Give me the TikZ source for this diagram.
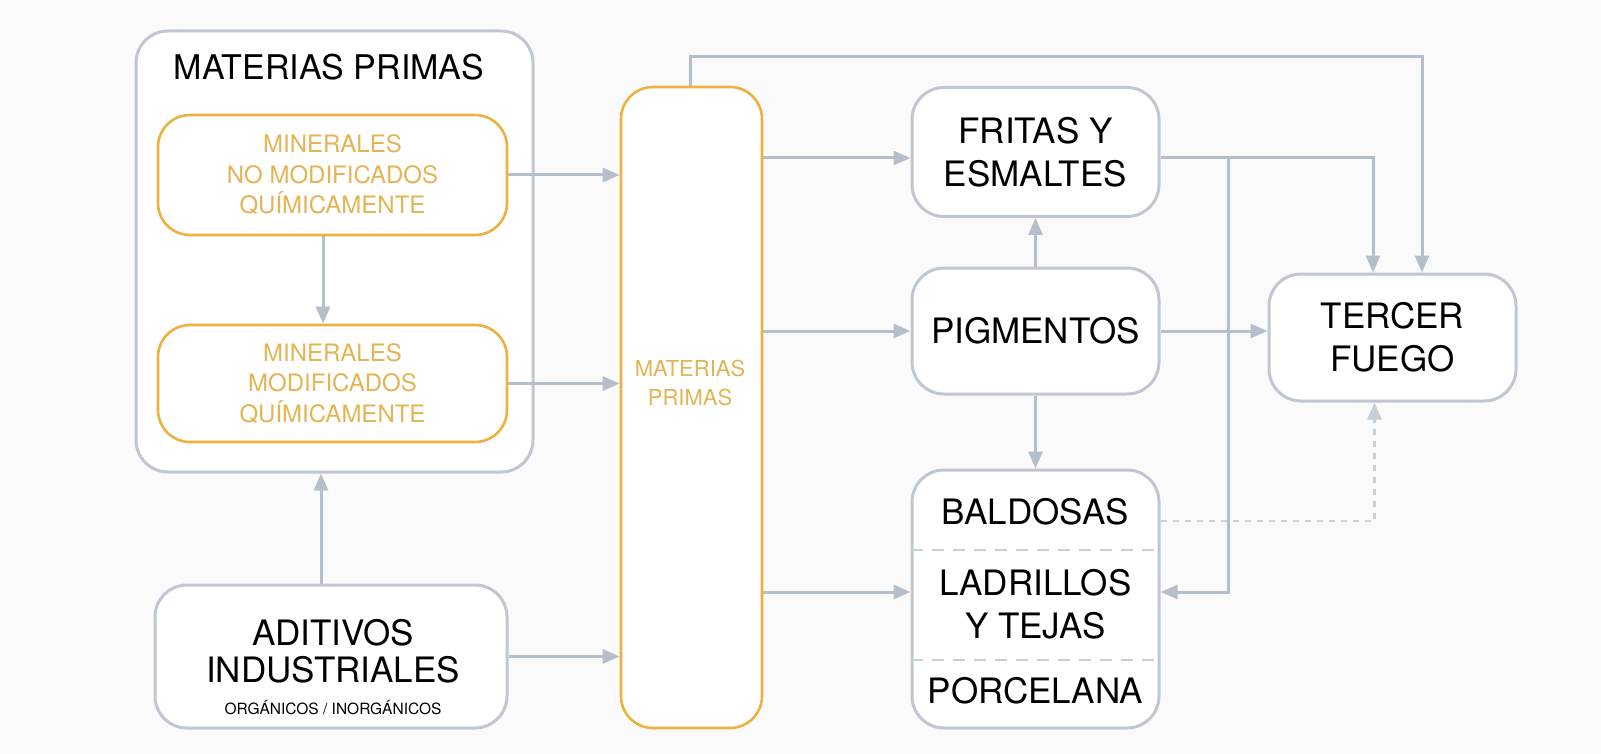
\documentclass[tikz,border=0pt]{standalone}
\usepackage{fontspec}
\setmainfont{TeX Gyre Heros}
\usetikzlibrary{arrows.meta}
\definecolor{lgray}{RGB}{181,191,203}
\definecolor{bgray}{RGB}{192,199,209}
\definecolor{dgray}{RGB}{200,206,214}
\definecolor{gold}{RGB}{234,178,62}
\definecolor{goldtxt}{RGB}{228,180,84}
\definecolor{bgc}{RGB}{250,250,250}
\begin{document}
\begin{tikzpicture}[x=1pt,y=-1pt,
  box/.style={draw=bgray, line width=3pt, rounded corners=32pt, fill=white, inner sep=0pt, align=center, font=\fontsize{35}{43}\selectfont},
  obox/.style={draw=gold, line width=2.6pt, rounded corners=32pt, fill=white, inner sep=0pt, align=center, text=goldtxt, font=\fontsize{24}{30.5}\selectfont},
  conn/.style={draw=lgray, line width=3pt, -{Triangle[length=17pt,width=14pt]}},
  dconn/.style={draw=dgray, line width=2.6pt, dash pattern=on 6pt off 6pt, -{Triangle[length=17pt,width=14pt]}},
  sep/.style={draw=dgray, line width=2.6pt, dash pattern=on 12pt off 9pt},
  txt/.style={inner sep=0pt, align=center}]
\fill[bgc] (0,0) rectangle (1601,754);
\useasboundingbox (0,0) rectangle (1601,754);

% left group
\node[box, minimum width=397pt, minimum height=441pt] (mp) at (334.5,251.5) {};
\node[txt, font=\fontsize{34}{40}\selectfont] (mpt) at (329,67) {MATERIAS PRIMAS};
\node[obox, minimum width=349pt, minimum height=120pt] (m1) at (332.5,175) {MINERALES\\NO MODIFICADOS\\QUÍMICAMENTE};
\node[obox, minimum width=349pt, minimum height=117pt] (m2) at (332.5,383.5) {MINERALES\\MODIFICADOS\\QUÍMICAMENTE};

\node[box, minimum width=352pt, minimum height=143pt] (adi) at (331,656.5) {};
\node[txt, font=\fontsize{35}{37}\selectfont] (adit) at (333,651.5) {ADITIVOS\\INDUSTRIALES};
\node[txt, font=\fontsize{15.5}{18}\selectfont] (adis) at (333,708) {ORGÁNICOS / INORGÁNICOS};

% column
\node[obox, minimum width=141pt, minimum height=641pt] (col) at (691.5,407.5) {};
\node[txt, text=goldtxt, font=\fontsize{22}{29}\selectfont] (colt) at (690,383) {MATERIAS\\PRIMAS};

% right group
\node[box, minimum width=247pt, minimum height=129pt] (fr) at (1035.5,152) {FRITAS Y\\ESMALTES};
\node[box, minimum width=247pt, minimum height=126pt] (pig) at (1035.5,331) {PIGMENTOS};
\node[box, minimum width=247pt, minimum height=258pt] (bald) at (1035.5,599) {};
\node[txt, font=\fontsize{35}{43}\selectfont] (bt1) at (1035.5,512) {BALDOSAS};
\node[txt, font=\fontsize{35}{43}\selectfont] (bt2) at (1035.5,604.5) {LADRILLOS\\Y TEJAS};
\node[txt, font=\fontsize{35}{43}\selectfont] (bt3) at (1035.5,691) {PORCELANA};
\coordinate (s1) at (0,550);
\coordinate (s2) at (0,660);
\draw[sep] (bald.west |- s1) -- (bald.east |- s1);
\draw[sep] (bald.west |- s2) -- (bald.east |- s2);
\node[box, minimum width=247pt, minimum height=127pt] (ter) at (1392.5,337.5) {TERCER\\FUEGO};

% connectors
\coordinate (a1) at (0,158);
\coordinate (a3) at (0,592);
\coordinate (a4) at (0,521);
\coordinate (br) at (1228,158);
\coordinate (brd) at (1228,592);

\draw[conn] ([xshift=-9.5pt]m1.south) -- ([xshift=-9.5pt]m2.north);
\draw[conn] ([xshift=-10pt]adi.north) -- ([xshift=-10pt]adi.north |- mp.south);
\draw[conn] (m1.east) -- (m1.east -| col.west);
\draw[conn] (m2.east) -- (m2.east -| col.west);
\draw[conn] (adi.east) -- (adi.east -| col.west);

\draw[conn] (col.east |- a1) -- (fr.west |- a1);
\draw[conn] (col.east |- pig.west) -- (pig.west);
\draw[conn] (col.east |- a3) -- (bald.west |- a3);
\draw[conn] ([xshift=-1.5pt]col.north) -- ++(0,-29) -| ([xshift=29.5pt]ter.north);

\draw[conn] (fr.east |- a1) -| ([xshift=-19.5pt]ter.north);
\draw[conn] (br) -- (brd) -- (bald.east |- a3);
\draw[conn] (pig.east) -- (ter.west |- pig.east);
\draw[conn] (pig.north) -- (fr.south);
\draw[conn] (pig.south) -- (bald.north);
\draw[dconn] (bald.east |- a4) -| ([xshift=-18pt]ter.south);
\end{tikzpicture}
\end{document}
